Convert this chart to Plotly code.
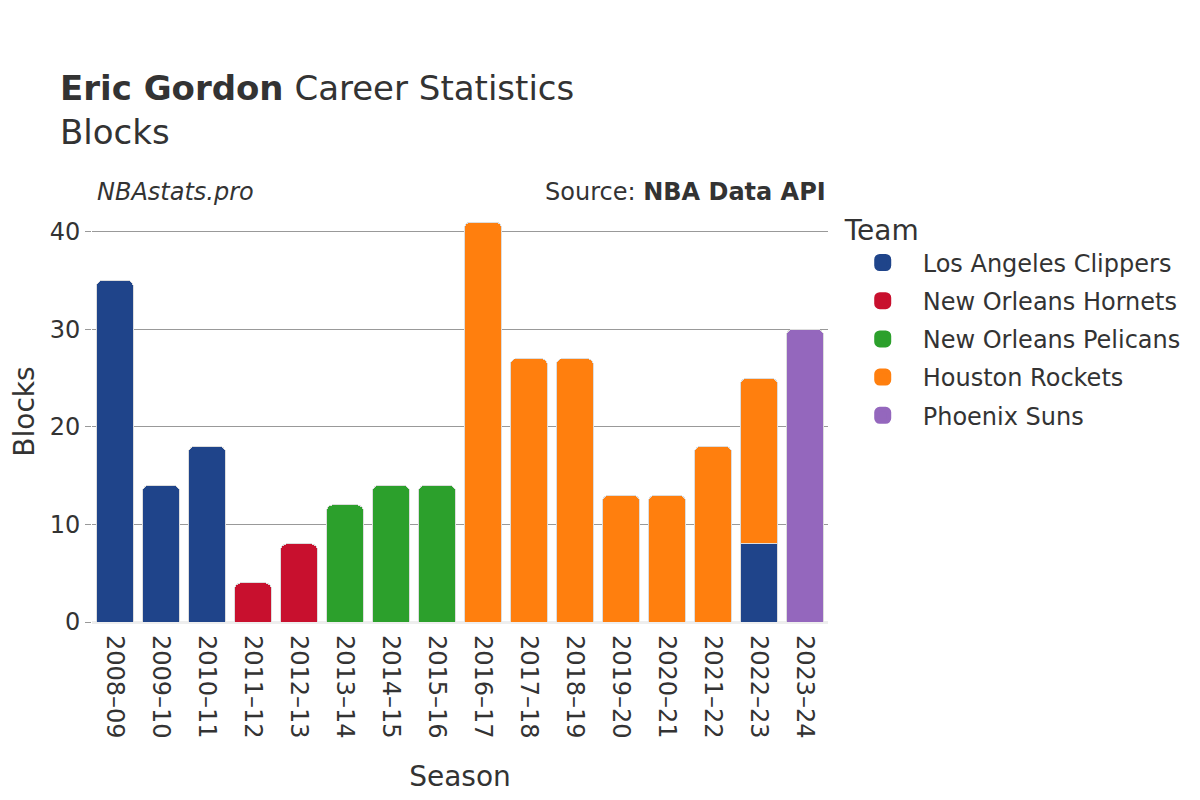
import plotly.graph_objects as go

seasons = ["2008–09", "2009–10", "2010–11", "2011–12", "2012–13", "2013–14", "2014–15",
           "2015–16", "2016–17", "2017–18", "2018–19", "2019–20", "2020–21", "2021–22",
           "2022–23", "2023–24"]

teams = ["Los Angeles Clippers", "New Orleans Hornets", "New Orleans Pelicans",
         "Houston Rockets", "Phoenix Suns"]
colors = ["#1f448a", "#c8102e", "#2ca02c", "#ff7f0e", "#9467bd"]

clippers_seasons = ["2008–09", "2009–10", "2010–11", "2022–23"]
clippers_blocks = [35, 14, 18, 8]
hornets_seasons = ["2011–12", "2012–13"]
hornets_blocks = [4, 8]
pelicans_seasons = ["2013–14", "2014–15", "2015–16"]
pelicans_blocks = [12, 14, 14]
rockets_seasons = ["2016–17", "2017–18", "2018–19", "2019–20", "2020–21", "2021–22", "2022–23"]
rockets_blocks = [41, 27, 27, 13, 13, 18, 17]
suns_seasons = ["2023–24"]
suns_blocks = [30]

series = [
    (clippers_seasons, clippers_blocks),
    (hornets_seasons, hornets_blocks),
    (pelicans_seasons, pelicans_blocks),
    (rockets_seasons, rockets_blocks),
    (suns_seasons, suns_blocks),
]

fig = go.Figure()
for team, color, (xs, ys) in zip(teams, colors, series):
    fig.add_trace(go.Bar(
        x=xs, y=ys, name=team, legendgroup=team, showlegend=False,
        marker=dict(color=color, line=dict(color="#dddddd", width=1)),
    ))
# legend entries (no data drawn) with a larger swatch
for team, color in zip(teams, colors):
    fig.add_trace(go.Bar(
        x=[None], y=[None], name=team, legendgroup=team, showlegend=True,
        marker=dict(color=color, line=dict(color=color, width=10)),
        hoverinfo="skip",
    ))

fig.update_layout(
    template="plotly_white",
    width=1200, height=800,
    barmode="stack",
    bargap=0.2,
    barcornerradius=6,
    font=dict(family="DejaVu Sans", color="#333333", size=24),
    title=dict(
        text="<b>Eric Gordon</b> Career Statistics<br>Blocks",
        x=52 / 1200, xanchor="left", y=1 - 92 / 800, yanchor="top",
        font=dict(size=34, color="#333333"),
    ),
    margin=dict(l=84, r=380, t=193, b=186),
    xaxis=dict(
        title=dict(text="Season", font=dict(size=28), standoff=28),
        categoryorder="array", categoryarray=seasons,
        tickangle=90,
        tickfont=dict(size=24),
        ticklabelstandoff=12,
        automargin=False,
    ),
    yaxis=dict(
        title=dict(text="Blocks", font=dict(size=28)),
        gridcolor="#999999",
        ticks="outside", ticklen=6, tickcolor="#999999",
        tickfont=dict(size=24),
        zeroline=True, zerolinecolor="#eeeeee", zerolinewidth=3,
        tickvals=[0, 10, 20, 30, 40],
        automargin=False,
    ),
    legend=dict(
        title=dict(text="Team", font=dict(size=28)),
        font=dict(size=24),
        traceorder="grouped",
        tracegroupgap=4,
        itemwidth=70,
        x=1.02, xanchor="left", y=1.0 - 3 / 421, yanchor="top",
    ),
    annotations=[
        dict(text="<i>NBAstats.pro</i>", xref="paper", yref="paper",
             x=0.0, y=1.0, xanchor="left", yanchor="bottom", showarrow=False,
             font=dict(size=24, color="#333333"), xshift=3, yshift=-7),
        dict(text="Source: <b>NBA Data API</b>", xref="paper", yref="paper",
             x=1.0, y=1.0, xanchor="right", yanchor="bottom", showarrow=False,
             font=dict(size=24, color="#333333"), xshift=0, yshift=-7),
    ],
)

fig.write_html("out.html")
